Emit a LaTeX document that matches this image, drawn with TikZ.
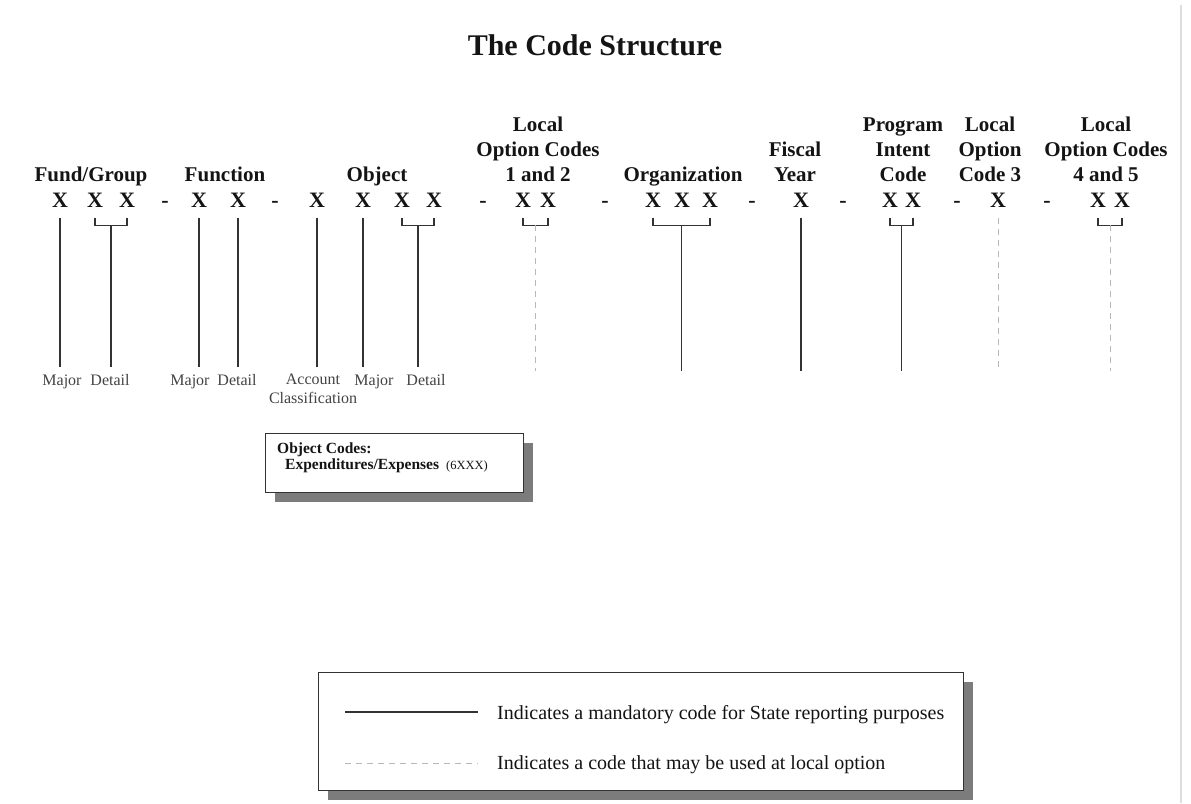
\documentclass[tikz,border=0pt]{standalone}
\usepackage{fontspec}
\setmainfont{Liberation Serif}
\usetikzlibrary{calc, shadows}
\definecolor{ink}{HTML}{141414}
\definecolor{rule}{HTML}{333333}
\definecolor{optGrey}{HTML}{b8b8b8}
\definecolor{shade}{HTML}{7c7c7c}
\definecolor{edge}{HTML}{dddddd}
\def\Xy{207}  % baseline of the X row
\def\Hy{181}  % baseline of the last header line
\def\Ly{385}  % baseline of the part labels
\def\Fy{371}  % foot of the unlabelled code lines

% bracket under two digits, mid point kept as #3
\newcommand{\pairbar}[3]{%
  \draw[bar] ([yshift=-11pt]#1.south) -- ([yshift=-18pt]#1.south)
    -- ([yshift=-18pt]#2.south) -- ([yshift=-11pt]#2.south);
  \coordinate (#3) at ($(#1.south)!0.5!(#2.south)+(0,18)$);}

\begin{document}
\begin{tikzpicture}[
    x=1pt, y=-1pt,
    title/.style={font=\fontsize{30}{36}\selectfont\bfseries, color=ink,
                  inner sep=0pt},
    head/.style={font=\fontsize{21}{25}\selectfont\bfseries, color=ink,
                 align=center, inner sep=0pt, anchor=base},
    digit/.style={font=\fontsize{22}{26}\selectfont\bfseries, color=ink,
                  inner sep=0pt, anchor=base},
    part/.style={font=\fontsize{16}{19}\selectfont, color=ink!80,
                 align=center, inner xsep=0pt, inner ysep=7pt, anchor=base},
    code/.style={draw=rule, line width=1.4pt},
    local/.style={draw=optGrey, line width=1pt, dash pattern=on 6pt off 5pt},
    bar/.style={draw=rule, line width=1.4pt},
    card/.style={draw=rule, line width=1.4pt, fill=white,
                 drop shadow={shadow xshift=9pt, shadow yshift=-9pt,
                              fill=shade, opacity=1}},
    boxtext/.style={font=\fontsize{15.5}{18}\selectfont\bfseries, color=ink,
                    inner sep=0pt, anchor=base west},
    legend/.style={font=\fontsize{20}{24}\selectfont, color=ink,
                   inner sep=0pt, anchor=base west},
    ]

\fill[white] (0,0) rectangle (1191,803);
\useasboundingbox (0,0) rectangle (1191,803);
\draw[edge, line width=2pt] (1181,5) -- (1181,803);

% ====================================================================
% Title and field headers
% ====================================================================
\node[title] (title) at (595,45) {The Code Structure};

\node[head] (hfund)  at (91,\Hy)   {Fund/Group};
\node[head] (hfunc)  at (225,\Hy)  {Function};
\node[head] (hobj)   at (377,\Hy)  {Object};
\node[head] (hloc12) at (538,\Hy)  {Local\\Option Codes\\1 and 2};
\node[head] (horg)   at (683,\Hy)  {Organization};
\node[head] (hfy)    at (795,\Hy)  {Fiscal\\Year};
\node[head] (hpic)   at (903,\Hy)  {Program\\Intent\\Code};
\node[head] (hloc3)  at (990,\Hy)  {Local\\Option\\Code 3};
\node[head] (hloc45) at (1106,\Hy) {Local\\Option Codes\\4 and 5};

% ====================================================================
% Digit row
% ====================================================================
\foreach \n/\x in {fg1/60, fg2/95, fg3/127, fn1/199, fn2/238,
                   ob1/317, ob2/363, ob3/402, ob4/434, lo1/523, lo2/548,
                   og1/653, og2/682, og3/710, fy/801, pi1/890, pi2/913,
                   lc3/998, lf1/1098, lf2/1122}
  \node[digit] (\n) at (\x,\Xy) {X};

\foreach \x [count=\i] in {165, 275, 483, 605, 752, 843, 957, 1047}
  \node[digit] (sep\i) at (\x,\Xy) {-};

% Brackets under the digit pairs
\pairbar{fg2}{fg3}{fgb}
\pairbar{ob3}{ob4}{obb}
\pairbar{lo1}{lo2}{lob}
\pairbar{og1}{og3}{ogb}
\pairbar{pi1}{pi2}{pib}
\pairbar{lf1}{lf2}{lfb}

% ====================================================================
% Part labels and code lines
% ====================================================================
\node[part] (fgmaj) at (62,\Ly)  {Major};
\node[part] (fgdet) at (110,\Ly) {Detail};
\node[part] (fnmaj) at (190,\Ly) {Major};
\node[part] (fndet) at (237,\Ly) {Detail};
\node[part, anchor=north] (obacc) at (313,367) {Account\\Classification};
\node[part] (obmaj) at (374,\Ly) {Major};
\node[part] (obdet) at (426,\Ly) {Detail};
\coordinate (foot) at (0,\Fy);

\draw[code] ([yshift=-11pt]fg1.south) -- (fg1.south |- fgmaj.north);
\draw[code] (fgb) -- (fgb |- fgdet.north);
\draw[code] ([yshift=-11pt]fn1.south) -- (fn1.south |- fnmaj.north);
\draw[code] ([yshift=-11pt]fn2.south) -- (fn2.south |- fndet.north);
\draw[code] ([yshift=-11pt]ob1.south) -- (ob1.south |- obmaj.north);
\draw[code] ([yshift=-11pt]ob2.south) -- (ob2.south |- obmaj.north);
\draw[code] (obb) -- (obb |- obdet.north);

\draw[local] (lob) -- (lob |- foot);
\draw[code] (ogb) -- (ogb |- foot);
\draw[code] ([yshift=-11pt]fy.south) -- (fy.south |- foot);
\draw[code] (pib) -- (pib |- foot);
\draw[local] ([yshift=-11pt]lc3.south) -- (lc3.south |- foot);
\draw[local] (lfb) -- (lfb |- foot);

% ====================================================================
% Object code note
% ====================================================================
\node[card, minimum width=258pt, minimum height=59pt, anchor=north west]
  (objcard) at (265,433) {};
\node[boxtext] (objhead) at (277,453) {Object Codes:};
\node[boxtext] (objexp) at (285,469)
  {Expenditures/Expenses\hspace{7pt}{\mdseries\fontsize{12.5}{14}\selectfont(6XXX)}};

% ====================================================================
% Legend
% ====================================================================
\node[card, minimum width=645pt, minimum height=118pt, anchor=north west]
  (legcard) at (318,672) {};
\coordinate (mandA) at (345,712);
\coordinate (mandB) at (478,712);
\coordinate (optA) at (345,763);
\coordinate (optB) at (478,763);
\draw[code] (mandA) -- (mandB);
\draw[local] (optA) -- (optB);
\node[legend] (mandtxt) at (497,719)
  {Indicates a mandatory code for State reporting purposes};
\node[legend] (opttxt) at (497,769)
  {Indicates a code that may be used at local option};

\end{tikzpicture}
\end{document}
